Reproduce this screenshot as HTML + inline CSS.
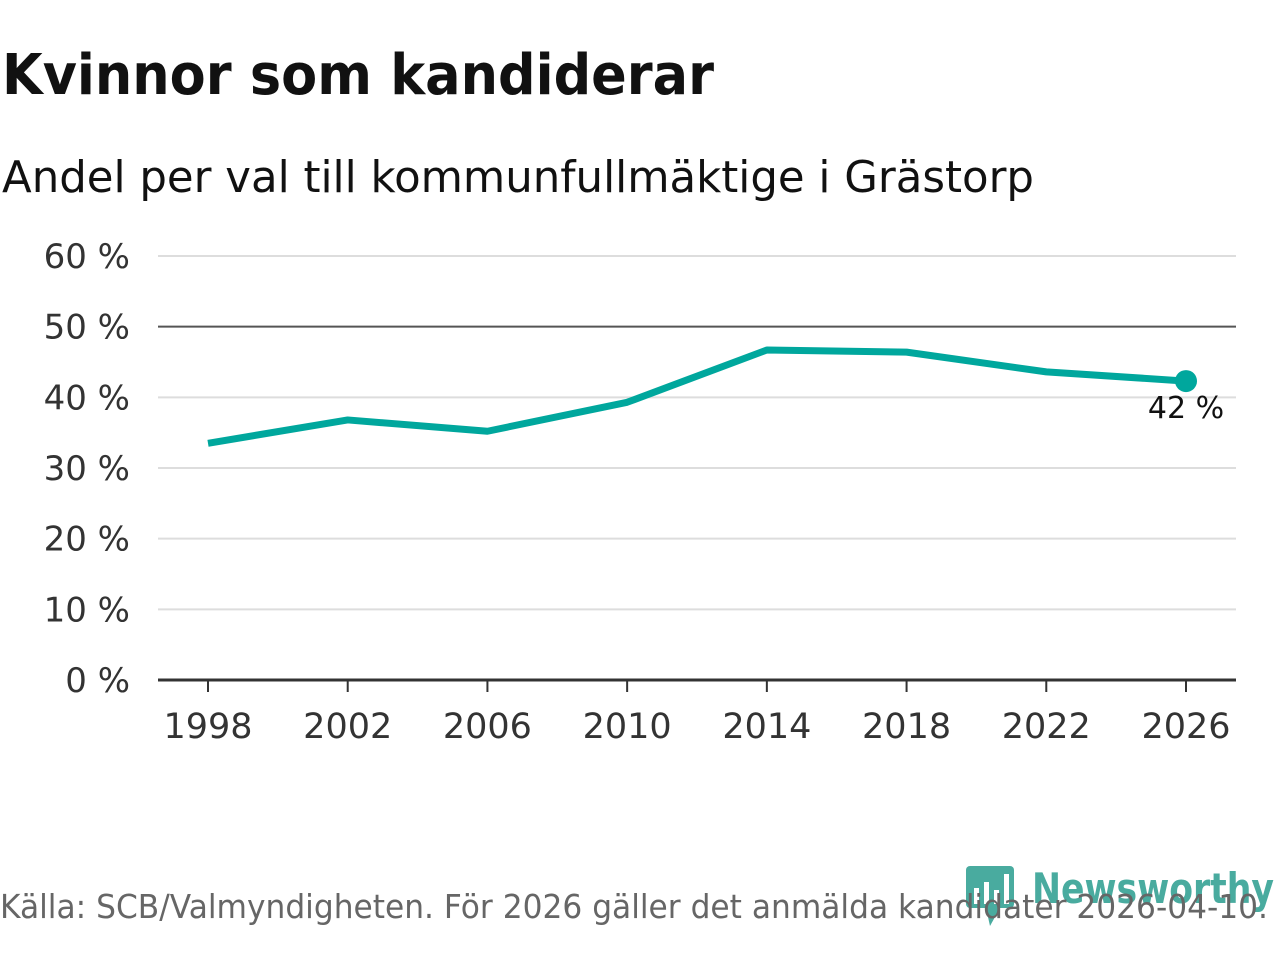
<!DOCTYPE html>
<html><head><meta charset="utf-8"><style>
body{margin:0;width:1280px;height:960px;background:#fff;font-family:"Liberation Sans","DejaVu Sans",sans-serif;overflow:hidden}
</style></head><body>
<svg width="1280" height="960" id="svg" font-family="'DejaVu Sans','Liberation Sans',sans-serif">
<text x="2" y="94" font-size="56" font-weight="bold" fill="#111" textLength="712" lengthAdjust="spacingAndGlyphs">Kvinnor som kandiderar</text>
<text x="2" y="192" font-size="44" fill="#111" textLength="1032" lengthAdjust="spacingAndGlyphs">Andel per val till kommunfullmäktige i Grästorp</text>
<g id="grid"></g><g id="plot"></g>
<g opacity="0.85">
<rect x="966" y="866" width="48" height="42" rx="4" fill="#2a9d8f"/>
<polygon points="986,908 1000,908 990,926" fill="#2a9d8f"/>
<rect x="974" y="888" width="5" height="16" fill="#fff"/><rect x="984" y="882" width="5" height="22" fill="#fff"/><rect x="994" y="890" width="5" height="14" fill="#fff"/><rect x="1004" y="874" width="5" height="30" fill="#fff"/>
<text x="1032" y="903" font-size="42" font-weight="bold" fill="#2a9d8f" textLength="242" lengthAdjust="spacingAndGlyphs">Newsworthy</text>
</g>
<text x="0" y="918" font-size="33" fill="#666" textLength="1268" lengthAdjust="spacingAndGlyphs">Källa: SCB/Valmyndigheten. För 2026 gäller det anmälda kandidater 2026-04-10.</text>
</svg>
<script>
const years=[1998,2002,2006,2010,2014,2018,2022,2026];
const values=[33.5,36.8,35.2,39.3,46.7,46.4,43.6,42.3];
const yTicks=[0,10,20,30,40,50,60];
const NS="http://www.w3.org/2000/svg";
const x=y=>208+(y-1998)*(978/28);
const yS=v=>680-v*(424/60);
function mk(t,a,p){const e=document.createElementNS(NS,t);for(const k in a)e.setAttribute(k,a[k]);p.appendChild(e);return e;}
const g=document.getElementById('grid'),p=document.getElementById('plot');
yTicks.forEach(t=>{
 const l=mk('line',{x1:158,x2:1236,y1:yS(t),y2:yS(t),stroke:t===50?'#555':(t===0?'#333':'#ddd'),'stroke-width':t===0?3:2},g);
 
 
 const tx=mk('text',{x:130,y:yS(t)+12,'text-anchor':'end','font-size':34,fill:'#333'},g);tx.textContent=t+' %';
 
 
});
years.forEach(yr=>{
 const tk=mk('line',{x1:x(yr),x2:x(yr),y1:680,y2:692,stroke:'#333','stroke-width':2},g);
 
 
 const tx=mk('text',{x:x(yr),y:738,'text-anchor':'middle','font-size':35,fill:'#333'},g);tx.textContent=yr;
 
 
});
const path=mk('polyline',{points:years.map((yr,i)=>x(yr)+','+yS(values[i])).join(' '),fill:'none',stroke:'#00a79d','stroke-width':7,'stroke-linejoin':'round'},p);


const n=years.length-1;
const dot=mk('circle',{cx:x(years[n]),cy:yS(values[n]),r:11,fill:'#00a79d'},p);


const lb=mk('text',{x:x(years[n]),y:yS(values[n])+37,'text-anchor':'middle','font-size':30,fill:'#111'},p);lb.textContent=Math.round(values[n])+' %';


</script>
</body></html>
